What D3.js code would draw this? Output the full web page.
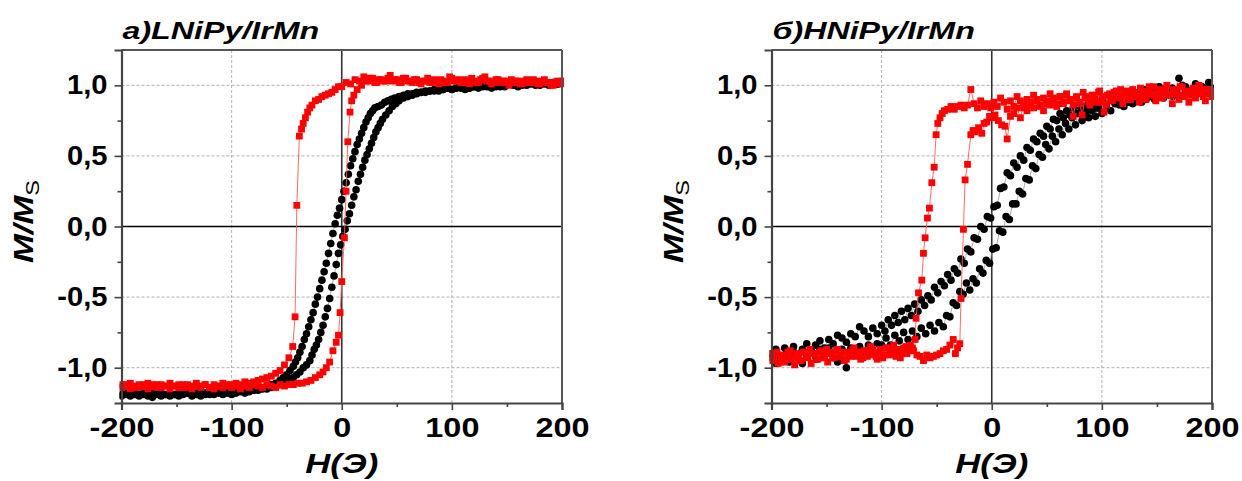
<!DOCTYPE html>
<html>
<head>
<meta charset="utf-8">
<script src="https://cdn.jsdelivr.net/npm/d3@7/dist/d3.min.js"></script>
<style>
  html, body { margin: 0; padding: 0; background: #fff; }
  svg { display: block; }
  text { font-family: "Liberation Sans", Arial, sans-serif; fill: #000; }
</style>
</head>
<body>
<svg id="chart" width="1242" height="481"></svg>
<script>
// Hysteresis loops M/Ms vs H for two NiPy/IrMn bilayers.
const xTickValues = [-200, -100, 0, 100, 200];
const xMinorValues = [-150, -50, 50, 150];
const yTickValues = [-1.0, -0.5, 0.0, 0.5, 1.0];
const yMinorValues = [-0.75, -0.25, 0.25, 0.75];
const panelTitles = ["а)LNiPy/IrMn", "б)HNiPy/IrMn"];

// Panel a: black loop, descending branch (H from +200 to -200), [H, M/Ms]
const aBlackDown = [[200,1.02],[196,1.01],[192,1.02],[188,1.00],[184,1.01],[180,1.02],[176,1.00],[172,1.01],[168,1.00],[164,1.01],[160,0.99],[156,1.00],[152,1.01],[148,0.99],[144,1.00],[140,0.99],[136,0.98],[132,1.00],[128,0.99],[124,0.98],[120,0.99],[116,0.98],[112,0.97],[108,0.99],[104,0.98],[100,0.97],[96,0.98],[92,0.97],[88,0.96],[84,0.97],[80,0.96],[76,0.96],[72,0.95],[68,0.95],[64,0.94],[60,0.94],[56,0.93],[52,0.92],[48,0.91],[45,0.90],[42,0.89],[39,0.88],[36,0.86],[33,0.85],[30,0.84],[28,0.82],[26,0.80],[24,0.77],[22,0.74],[20,0.70],[18,0.66],[16,0.62],[14,0.58],[12,0.53],[10,0.48],[8,0.43],[6,0.37],[4,0.31],[2,0.25],[0,0.19],[-2,0.13],[-4,0.08],[-6,0.02],[-8,-0.05],[-10,-0.12],[-12,-0.19],[-14,-0.26],[-16,-0.32],[-18,-0.38],[-20,-0.44],[-22,-0.50],[-24,-0.55],[-26,-0.61],[-28,-0.66],[-30,-0.71],[-32,-0.76],[-34,-0.80],[-36,-0.85],[-38,-0.89],[-40,-0.93],[-42,-0.96],[-44,-0.99],[-47,-1.02],[-50,-1.05],[-53,-1.07],[-56,-1.09],[-60,-1.11],[-64,-1.12],[-68,-1.13],[-72,-1.14],[-76,-1.15],[-80,-1.15],[-84,-1.16],[-88,-1.17],[-92,-1.16],[-96,-1.17],[-100,-1.18],[-104,-1.17],[-108,-1.18],[-112,-1.17],[-116,-1.18],[-120,-1.19],[-124,-1.18],[-128,-1.17],[-132,-1.18],[-136,-1.19],[-140,-1.18],[-144,-1.17],[-148,-1.18],[-152,-1.19],[-156,-1.18],[-160,-1.19],[-164,-1.18],[-168,-1.17],[-172,-1.18],[-176,-1.19],[-180,-1.18],[-184,-1.19],[-188,-1.18],[-192,-1.19],[-196,-1.18],[-200,-1.19]];
// Panel a: black loop, ascending branch (H from -200 to +200)
const aBlackUp = [[-200,-1.20],[-196,-1.19],[-192,-1.20],[-188,-1.19],[-184,-1.20],[-180,-1.19],[-176,-1.20],[-172,-1.21],[-168,-1.19],[-164,-1.20],[-160,-1.19],[-156,-1.20],[-152,-1.19],[-148,-1.20],[-144,-1.19],[-140,-1.18],[-136,-1.20],[-132,-1.19],[-128,-1.20],[-124,-1.19],[-120,-1.18],[-116,-1.19],[-112,-1.18],[-108,-1.19],[-104,-1.18],[-100,-1.19],[-96,-1.18],[-92,-1.17],[-88,-1.18],[-84,-1.17],[-80,-1.16],[-76,-1.16],[-72,-1.15],[-68,-1.15],[-64,-1.14],[-60,-1.13],[-56,-1.12],[-53,-1.11],[-50,-1.10],[-47,-1.09],[-44,-1.07],[-41,-1.05],[-38,-1.03],[-35,-1.00],[-32,-0.98],[-29,-0.95],[-27,-0.91],[-25,-0.87],[-23,-0.84],[-21,-0.80],[-19,-0.75],[-17,-0.70],[-15,-0.64],[-13,-0.58],[-11,-0.51],[-9,-0.43],[-7,-0.35],[-5,-0.27],[-3,-0.19],[-1,-0.13],[1,-0.07],[3,-0.02],[5,0.04],[7,0.09],[9,0.15],[11,0.21],[13,0.26],[15,0.32],[17,0.37],[19,0.42],[21,0.47],[23,0.51],[25,0.55],[27,0.59],[29,0.63],[31,0.67],[33,0.70],[35,0.73],[37,0.76],[40,0.79],[43,0.82],[46,0.85],[49,0.87],[52,0.89],[56,0.91],[60,0.92],[64,0.93],[68,0.94],[72,0.95],[76,0.95],[80,0.96],[84,0.96],[88,0.97],[92,0.97],[96,0.98],[100,0.97],[104,0.98],[108,0.98],[112,0.99],[116,0.98],[120,0.99],[124,0.99],[128,1.00],[132,0.99],[136,1.00],[140,1.00],[144,0.99],[148,1.00],[152,1.01],[156,1.00],[160,1.01],[164,1.00],[168,1.01],[172,1.02],[176,1.01],[180,1.00],[184,1.02],[188,1.01],[192,1.02],[196,1.01],[200,1.02]];
// Panel a: red loop, descending branch
const aRedDown = [[200,1.01],[196,1.03],[192,1.00],[188,1.02],[184,1.04],[180,1.01],[176,1.03],[172,1.02],[168,1.04],[164,1.01],[160,1.03],[156,1.02],[152,1.00],[148,1.03],[144,1.02],[140,1.04],[136,1.01],[132,1.03],[128,1.05],[124,1.02],[120,1.03],[116,1.01],[112,1.04],[108,1.02],[104,1.03],[100,1.05],[96,1.02],[92,1.03],[88,1.01],[84,1.04],[80,1.02],[76,1.03],[72,1.01],[68,1.04],[64,1.02],[60,1.03],[56,1.05],[52,1.02],[48,1.04],[44,1.07],[40,1.03],[36,1.04],[32,1.02],[28,1.05],[24,1.03],[20,1.06],[16,1.03],[12,1.04],[8,1.01],[4,1.02],[0,0.99],[-3,0.99],[-6,0.97],[-9,0.95],[-12,0.94],[-15,0.93],[-18,0.92],[-21,0.90],[-24,0.89],[-27,0.86],[-29,0.84],[-31,0.81],[-33,0.77],[-35,0.73],[-36.5,0.69],[-38.5,0.64],[-40.8,0.15],[-42.4,-0.64],[-44.5,-0.85],[-48,-0.93],[-52,-0.98],[-56,-1.02],[-60,-1.04],[-64,-1.06],[-68,-1.07],[-72,-1.08],[-76,-1.09],[-80,-1.10],[-84,-1.11],[-88,-1.10],[-92,-1.12],[-96,-1.11],[-100,-1.12],[-104,-1.13],[-108,-1.11],[-112,-1.13],[-116,-1.12],[-120,-1.14],[-124,-1.12],[-128,-1.13],[-132,-1.11],[-136,-1.13],[-140,-1.12],[-144,-1.14],[-148,-1.12],[-152,-1.13],[-156,-1.11],[-160,-1.13],[-164,-1.12],[-168,-1.14],[-172,-1.12],[-176,-1.11],[-180,-1.13],[-184,-1.12],[-188,-1.14],[-192,-1.11],[-196,-1.13],[-200,-1.12]];
// Panel a: red loop, ascending branch
const aRedUp = [[-200,-1.14],[-196,-1.12],[-192,-1.15],[-188,-1.13],[-184,-1.14],[-180,-1.12],[-176,-1.15],[-172,-1.13],[-168,-1.12],[-164,-1.14],[-160,-1.13],[-156,-1.15],[-152,-1.13],[-148,-1.14],[-144,-1.12],[-140,-1.14],[-136,-1.15],[-132,-1.13],[-128,-1.14],[-124,-1.12],[-120,-1.14],[-116,-1.15],[-112,-1.13],[-108,-1.14],[-104,-1.12],[-100,-1.14],[-96,-1.13],[-92,-1.15],[-88,-1.13],[-84,-1.14],[-80,-1.12],[-76,-1.13],[-72,-1.14],[-68,-1.12],[-64,-1.13],[-60,-1.14],[-56,-1.12],[-52,-1.13],[-48,-1.12],[-44,-1.12],[-40,-1.11],[-36,-1.11],[-32,-1.10],[-28,-1.09],[-24,-1.07],[-20,-1.05],[-17,-1.03],[-14,-1.00],[-11,-0.96],[-8,-0.88],[-5,-0.82],[-3,-0.77],[-1.5,-0.61],[0,-0.39],[2.4,-0.08],[3.9,0.25],[5.5,0.60],[7.5,0.81],[9,0.89],[11,0.93],[14,0.97],[18,1.00],[22,1.03],[26,1.05],[30,1.02],[34,1.04],[38,1.03],[42,1.05],[46,1.03],[50,1.04],[54,1.02],[58,1.05],[62,1.03],[66,1.04],[70,1.02],[74,1.03],[78,1.05],[82,1.02],[86,1.03],[90,1.04],[94,1.02],[98,1.06],[102,1.03],[106,1.04],[110,1.02],[114,1.03],[118,1.05],[122,1.02],[126,1.04],[130,1.06],[134,1.03],[138,1.02],[142,1.04],[146,1.03],[150,1.02],[154,1.04],[158,1.03],[162,1.01],[166,1.03],[170,1.02],[174,1.04],[178,1.01],[182,1.03],[186,1.02],[190,1.00],[194,1.02],[198,1.01],[200,1.03]];

// Panel b: black loop, descending branch
const bBlackDown = [[200,0.98],[197,1.02],[194,0.95],[191,0.99],[188,0.96],[185,1.01],[182,0.97],[179,0.94],[176,0.99],[173,1.00],[170,1.05],[167,0.96],[164,0.98],[161,0.94],[158,0.97],[155,0.95],[152,0.99],[149,0.93],[146,0.96],[143,0.94],[140,0.97],[137,0.92],[134,0.95],[131,0.93],[128,0.96],[125,0.91],[122,0.94],[119,0.92],[116,0.90],[113,0.93],[110,0.89],[107,0.93],[104,0.87],[101,0.91],[98,0.88],[95,0.84],[92,0.88],[89,0.83],[86,0.86],[83,0.82],[80,0.85],[77,0.80],[74,0.84],[71,0.79],[68,0.82],[65,0.77],[62,0.80],[59,0.75],[56,0.76],[53,0.69],[50,0.71],[47,0.64],[44,0.66],[41,0.60],[38,0.62],[35,0.54],[32,0.56],[29,0.47],[26,0.50],[23,0.42],[20,0.45],[17,0.36],[14,0.38],[11,0.28],[8,0.27],[5,0.15],[2,0.14],[-1,0.06],[-4,0.07],[-7,-0.02],[-10,0.00],[-13,-0.09],[-16,-0.08],[-19,-0.18],[-22,-0.16],[-25,-0.26],[-28,-0.23],[-31,-0.33],[-34,-0.30],[-37,-0.38],[-40,-0.34],[-43,-0.42],[-46,-0.39],[-49,-0.47],[-52,-0.43],[-55,-0.52],[-58,-0.49],[-61,-0.56],[-64,-0.52],[-67,-0.60],[-70,-0.55],[-73,-0.63],[-76,-0.58],[-79,-0.66],[-82,-0.60],[-85,-0.68],[-88,-0.63],[-91,-0.70],[-94,-0.66],[-97,-0.74],[-100,-0.70],[-104,-0.76],[-108,-0.72],[-112,-0.78],[-116,-0.74],[-120,-0.71],[-124,-0.78],[-128,-0.76],[-132,-0.82],[-136,-0.79],[-140,-0.77],[-144,-0.83],[-148,-0.80],[-152,-0.86],[-156,-0.81],[-160,-0.84],[-164,-0.88],[-168,-0.83],[-172,-0.87],[-176,-0.91],[-180,-0.85],[-184,-0.89],[-188,-0.86],[-192,-0.92],[-196,-0.87],[-200,-0.90]];
// Panel b: black loop, ascending branch
const bBlackUp = [[-200,-0.93],[-196,-0.97],[-192,-0.95],[-188,-0.91],[-184,-0.96],[-180,-0.89],[-176,-0.93],[-172,-0.97],[-168,-0.92],[-164,-0.88],[-160,-0.94],[-156,-0.87],[-152,-0.91],[-148,-0.86],[-144,-0.93],[-140,-0.96],[-136,-0.87],[-132,-1.00],[-128,-0.86],[-124,-0.91],[-120,-0.85],[-116,-0.89],[-112,-0.84],[-108,-0.88],[-104,-0.83],[-100,-0.84],[-96,-0.79],[-92,-0.84],[-88,-0.77],[-84,-0.81],[-80,-0.75],[-76,-0.80],[-72,-0.74],[-68,-0.78],[-64,-0.72],[-60,-0.76],[-56,-0.70],[-52,-0.74],[-48,-0.68],[-44,-0.71],[-41,-0.63],[-38,-0.64],[-35,-0.54],[-32,-0.56],[-29,-0.46],[-26,-0.48],[-23,-0.40],[-20,-0.45],[-17,-0.37],[-14,-0.40],[-11,-0.30],[-8,-0.33],[-5,-0.24],[-2,-0.26],[1,-0.16],[4,-0.15],[7,-0.03],[10,-0.04],[13,0.07],[16,0.05],[19,0.16],[22,0.16],[25,0.25],[28,0.23],[31,0.34],[34,0.33],[37,0.43],[40,0.41],[43,0.51],[46,0.49],[49,0.58],[52,0.55],[55,0.64],[58,0.60],[61,0.69],[64,0.65],[67,0.73],[70,0.69],[73,0.77],[76,0.72],[79,0.80],[82,0.75],[85,0.81],[88,0.77],[91,0.82],[94,0.78],[97,0.84],[100,0.80],[104,0.85],[108,0.82],[112,0.87],[116,0.86],[120,0.85],[124,0.88],[128,0.87],[132,0.89],[136,0.88],[140,0.90],[144,0.92],[148,0.90],[152,0.93],[156,0.91],[160,0.94],[164,0.92],[168,0.95],[172,0.93],[176,0.96],[180,0.94],[184,0.97],[188,0.95],[192,0.98],[196,0.96],[200,0.97]];
// Panel b: red loop, descending branch
const bRedDown = [[200,0.92],[197,0.97],[194,0.89],[191,0.95],[188,1.00],[185,0.91],[182,0.96],[179,0.88],[176,0.94],[173,0.99],[170,0.90],[167,0.95],[164,0.87],[161,0.93],[158,0.98],[155,0.91],[152,0.96],[149,0.89],[146,0.94],[143,0.99],[140,0.90],[137,0.95],[134,0.88],[131,0.93],[128,0.97],[125,0.90],[122,0.94],[119,0.87],[116,0.92],[113,0.96],[110,0.89],[107,0.94],[104,0.86],[101,0.92],[98,0.96],[95,0.88],[92,0.93],[89,0.86],[86,0.91],[83,0.95],[80,0.88],[77,0.92],[74,0.86],[71,0.90],[68,0.94],[65,0.87],[62,0.92],[59,0.85],[56,0.90],[53,0.94],[50,0.87],[47,0.91],[44,0.85],[41,0.89],[38,0.93],[35,0.86],[32,0.90],[29,0.84],[26,0.89],[23,0.92],[20,0.85],[17,0.89],[14,0.83],[11,0.88],[8,0.91],[5,0.85],[2,0.88],[-1,0.84],[-4,0.87],[-7,0.85],[-10,0.89],[-13,0.84],[-16,0.87],[-19,0.97],[-22,0.86],[-25,0.84],[-28,0.86],[-31,0.85],[-34,0.83],[-37,0.85],[-40,0.83],[-43,0.82],[-45,0.80],[-47,0.77],[-49,0.73],[-50.5,0.65],[-52.3,0.42],[-54.4,0.31],[-56.6,0.13],[-58.4,0.06],[-60.5,-0.08],[-62,-0.19],[-63.5,-0.38],[-66.5,-0.47],[-68.7,-0.65],[-69.6,-0.80],[-72,-0.86],[-75,-0.88],[-78,-0.85],[-81,-0.90],[-84,-0.87],[-87,-0.92],[-90,-0.88],[-93,-0.91],[-96,-0.86],[-99,-0.93],[-102,-0.89],[-105,-0.92],[-108,-0.87],[-111,-0.91],[-114,-0.88],[-117,-0.93],[-120,-0.89],[-123,-0.92],[-126,-0.87],[-129,-0.91],[-132,-0.94],[-135,-0.89],[-138,-0.92],[-141,-0.88],[-144,-0.93],[-147,-0.90],[-150,-0.87],[-153,-0.92],[-156,-0.89],[-159,-0.94],[-162,-0.90],[-165,-0.87],[-168,-0.92],[-171,-0.89],[-174,-0.95],[-177,-0.90],[-180,-0.93],[-183,-0.88],[-186,-0.94],[-189,-0.91],[-192,-0.96],[-195,-0.89],[-198,-0.93],[-200,-0.90]];
// Panel b: red loop, ascending branch
const bRedUp = [[-200,-0.95],[-197,-0.90],[-194,-0.97],[-191,-0.92],[-188,-0.96],[-185,-0.89],[-182,-0.94],[-179,-0.98],[-176,-0.91],[-173,-0.95],[-170,-0.89],[-167,-0.93],[-164,-0.97],[-161,-0.90],[-158,-0.94],[-155,-0.88],[-152,-0.93],[-149,-0.96],[-146,-0.89],[-143,-0.93],[-140,-0.87],[-137,-0.92],[-134,-0.95],[-131,-0.89],[-128,-0.92],[-125,-0.86],[-122,-0.91],[-119,-0.94],[-116,-0.88],[-113,-0.92],[-110,-0.85],[-107,-0.90],[-104,-0.94],[-101,-0.87],[-98,-0.91],[-95,-0.86],[-92,-0.90],[-89,-0.84],[-86,-0.89],[-83,-0.93],[-80,-0.86],[-77,-0.90],[-74,-0.84],[-71,-0.88],[-68,-0.91],[-65,-0.92],[-62,-0.95],[-59,-0.91],[-56,-0.93],[-53,-0.92],[-50,-0.91],[-47,-0.90],[-44,-0.88],[-41,-0.87],[-38,-0.84],[-35,-0.80],[-33,-0.90],[-31,-0.86],[-29,-0.83],[-27.9,-0.51],[-25.7,-0.02],[-24.2,0.33],[-22,0.44],[-19,0.65],[-17,0.68],[-15,0.67],[-12,0.70],[-9,0.66],[-7,0.73],[-4.5,0.74],[-2,0.78],[1,0.77],[3,0.79],[6,0.75],[9,0.72],[12,0.71],[14,0.62],[17,0.78],[20,0.80],[23,0.84],[26,0.77],[29,0.86],[32,0.82],[35,0.88],[38,0.84],[41,0.90],[44,0.86],[47,0.82],[50,0.89],[53,0.86],[56,0.91],[59,0.87],[62,0.92],[65,0.88],[68,0.93],[71,0.89],[74,0.78],[77,0.91],[80,0.87],[82,0.79],[85,0.92],[88,0.88],[91,0.93],[94,0.90],[97,0.95],[100,0.88],[102,0.81],[105,0.93],[108,0.90],[111,0.95],[114,0.91],[117,0.97],[120,0.92],[123,0.96],[126,0.90],[129,0.95],[132,0.92],[135,0.98],[138,0.91],[141,0.96],[144,0.93],[147,0.99],[150,0.92],[153,0.97],[156,0.94],[159,1.00],[162,0.93],[165,0.97],[168,0.94],[171,0.99],[174,0.92],[177,0.96],[180,0.93],[183,0.98],[186,0.94],[189,0.99],[192,0.92],[195,0.97],[198,0.94],[200,0.96]];

const panels = [
  { title: panelTitles[0], black: [aBlackDown, aBlackUp], red: [aRedDown, aRedUp] },
  { title: panelTitles[1], black: [bBlackDown, bBlackUp], red: [bRedDown, bRedUp] }
];

// Layout
const plotW = 440.5, plotH = 353, plotTop = 50;
const panelLeft = [121.5, 771.5];

const locale = d3.formatLocale({ decimal: ",", thousands: " ", grouping: [3], currency: ["", ""], minus: "-" });
const fmtY = locale.format(".1f");
const fmtX = locale.format("d");

const svg = d3.select("#chart");

panels.forEach((p, i) => {
  const g = svg.append("g").attr("transform", `translate(${panelLeft[i]},${plotTop})`);
  const x = d3.scaleLinear().domain([-200, 200]).range([0, plotW]);
  const y = d3.scaleLinear().domain([-1.25, 1.25]).range([plotH, 0]);

  // dashed grid at major ticks
  g.append("g").selectAll("line").data(xTickValues.filter(v => v !== 0 && Math.abs(v) !== 200)).join("line")
    .attr("x1", d => x(d)).attr("x2", d => x(d)).attr("y1", 0).attr("y2", plotH)
    .attr("stroke", "#b0b0b0").attr("stroke-width", 1).attr("stroke-dasharray", "3,2");
  g.append("g").selectAll("line").data(yTickValues.filter(v => v !== 0)).join("line")
    .attr("x1", 0).attr("x2", plotW).attr("y1", d => y(d)).attr("y2", d => y(d))
    .attr("stroke", "#b0b0b0").attr("stroke-width", 1).attr("stroke-dasharray", "3,2");

  // zero lines
  g.append("line").attr("x1", x(0)).attr("x2", x(0)).attr("y1", 0).attr("y2", plotH)
    .attr("stroke", "#333").attr("stroke-width", 1.6);
  g.append("line").attr("x1", 0).attr("x2", plotW).attr("y1", y(0)).attr("y2", y(0))
    .attr("stroke", "#000").attr("stroke-width", 1.4);

  // data
  const clipId = "clip" + i;
  g.append("clipPath").attr("id", clipId).append("rect")
    .attr("x", -2).attr("y", -2).attr("width", plotW + 4).attr("height", plotH + 4);
  const data = g.append("g").attr("clip-path", `url(#${clipId})`);
  const line = d3.line().x(d => x(d[0])).y(d => y(d[1]));

  p.black.forEach(branch => {
    data.append("path").attr("d", line(branch)).attr("fill", "none")
      .attr("stroke", "#8a8a8a").attr("stroke-width", 0.7);
  });
  p.black.forEach(branch => {
    data.append("g").selectAll("circle").data(branch).join("circle")
      .attr("cx", d => x(d[0])).attr("cy", d => y(d[1])).attr("r", 3.8).attr("fill", "#000");
  });
  p.red.forEach(branch => {
    data.append("path").attr("d", line(branch)).attr("fill", "none")
      .attr("stroke", "#ff5a5a").attr("stroke-width", 0.9);
  });
  const s = 6.8;
  p.red.forEach(branch => {
    data.append("g").selectAll("rect").data(branch).join("rect")
      .attr("x", d => x(d[0]) - s / 2).attr("y", d => y(d[1]) - s / 2)
      .attr("width", s).attr("height", s).attr("fill", "#ff0000");
  });

  // frame: top and right
  g.append("line").attr("x1", 0).attr("x2", plotW).attr("y1", 0).attr("y2", 0)
    .attr("stroke", "#555").attr("stroke-width", 2);
  g.append("line").attr("x1", plotW).attr("x2", plotW).attr("y1", 0).attr("y2", plotH)
    .attr("stroke", "#555").attr("stroke-width", 2);

  // bottom axis
  const xAxis = g.append("g").attr("transform", `translate(0,${plotH})`)
    .call(d3.axisBottom(x).tickValues(xTickValues).tickFormat(fmtX).tickSize(7).tickPadding(8));
  g.append("g").attr("transform", `translate(0,${plotH})`)
    .call(d3.axisBottom(x).tickValues(xMinorValues).tickFormat("").tickSize(4))
    .call(a => a.select(".domain").remove());
  // left axis
  const yAxis = g.append("g")
    .call(d3.axisLeft(y).tickValues(yTickValues).tickFormat(fmtY).tickSize(7).tickPadding(7));
  g.append("g")
    .call(d3.axisLeft(y).tickValues(yMinorValues).tickFormat("").tickSize(4))
    .call(a => a.select(".domain").remove());

  g.selectAll(".domain").attr("stroke", "#444").attr("stroke-width", 2.2);
  g.selectAll(".tick line").attr("stroke", "#444").attr("stroke-width", 1.6);
  g.selectAll(".tick text").attr("font-size", 27).attr("font-weight", "bold")
    .attr("font-family", "'Liberation Sans', Arial, sans-serif").attr("fill", "#000");
  // the lettering is set a little wide
  xAxis.selectAll(".tick text").attr("dy", "0.71em").attr("transform", "scale(1.2,1)");
  yAxis.selectAll(".tick text").attr("x", null).attr("transform", "translate(-14,0) scale(1.08,1)");

  // title
  g.append("text").attr("transform", "translate(1,-11) scale(1.4,1)")
    .attr("font-size", 23).attr("font-weight", "bold").attr("font-style", "italic")
    .text(p.title);

  // x label
  g.append("text").attr("transform", `translate(${plotW / 2},${plotH + 70}) scale(1.24,1)`)
    .attr("text-anchor", "middle")
    .attr("font-size", 28).attr("font-weight", "bold").attr("font-style", "italic")
    .text("H(Э)");

  // y label
  const yl = g.append("text").attr("transform", `translate(-89,${plotH / 2 - 5}) rotate(-90) scale(1.24,1)`)
    .attr("text-anchor", "middle").attr("font-size", 28).attr("font-weight", "bold").attr("font-style", "italic");
  yl.append("tspan").text("M/M");
  yl.append("tspan").attr("font-size", 19).attr("font-weight", "normal").attr("font-style", "normal")
    .attr("dy", 6).text("S");
});
</script>
</body>
</html>
